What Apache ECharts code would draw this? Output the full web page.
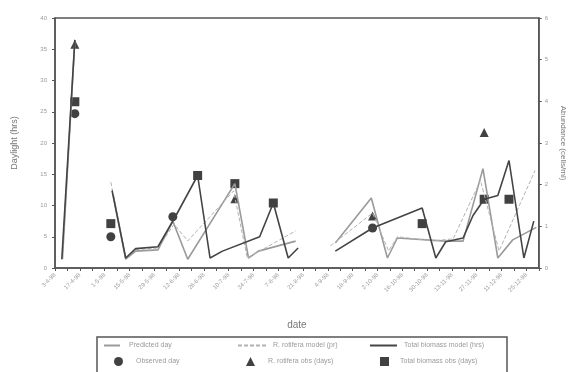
<!DOCTYPE html>
<html>
<head>
<meta charset="utf-8">
<script src="https://cdn.jsdelivr.net/npm/echarts@6/dist/echarts.min.js"></script>
<style>
html, body { margin: 0; padding: 0; background: #fff; }
#chart { width: 575px; height: 372px; }
</style>
</head>
<body>
<div id="chart"></div>
<script>
// x is the tick index along the date axis (one tick per week), labels on every other tick
const dateLabels = ['3-4-98', '17-4-98', '1-5-98', '15-5-98', '29-5-98', '12-6-98', '26-6-98', '10-7-98',
	'24-7-98', '7-8-98', '21-8-98', '4-9-98', '18-9-98', '2-10-98', '16-10-98', '30-10-98',
	'13-11-98', '27-11-98', '11-12-98', '25-12-98'];

// '-' marks a gap in the record
const modelDay = [[0.6, 1.4], [1.6, 36.5], [3, '-'],
	[4.7, 11.6], [5.7, 1.4], [6.5, 2.7], [8.3, 2.9], [9.5, 7.5], [10.7, 1.4], [14.5, 13.5], [15.6, 1.6],
	[16.4, 2.7], [19.4, 4.3], [21, '-'],
	[22.6, 4.0], [25.5, 11.2], [26.8, 1.6], [27.6, 4.8], [31.5, 4.3], [32.9, 4.3], [34.5, 15.9], [35.7, 1.6],
	[36.9, 4.5], [38.8, 6.5]];

const modelRot = [[0.6, 0.22], [1.6, 5.37], [3, '-'],
	[4.5, 2.06], [5.7, 0.24], [6.5, 0.44], [8.3, 0.48], [9.6, 1.05], [10.7, 0.65], [14.4, 1.85], [15.5, 0.24],
	[19.4, 0.89], [21, '-'],
	[22.2, 0.53], [25.6, 1.32], [26.9, 0.41], [27.6, 0.75], [30.5, 0.65], [32.1, 0.7], [34.3, 2.1],
	[35.8, 0.41], [38.7, 2.34]];

const modelTotal = [[0.55, 1.4], [1.6, 36.5], [3, '-'],
	[4.6, 12.4], [5.7, 1.6], [6.5, 3.1], [8.3, 3.4], [9.7, 8.2], [11.5, 14.8], [12.5, 1.6], [13.5, 2.7],
	[16.5, 5.0], [17.6, 10.4], [18.8, 1.6], [19.6, 3.2], [21, '-'],
	[22.6, 2.7], [25.6, 6.4], [29.6, 9.6], [30.7, 1.6], [31.5, 4.2], [32.9, 4.8], [33.7, 8.4],
	[34.6, 11.0], [35.7, 11.6], [36.6, 17.2], [37.8, 1.6], [38.6, 7.5]];

const obsDay = [[1.6, 24.7], [4.5, 5.0], [9.5, 8.2], [25.6, 6.4]];
const obsRot = [[1.6, 5.37], [14.5, 1.66], [25.6, 1.25], [34.6, 3.25]];
const obsTotal = [[1.6, 26.6], [4.5, 7.1], [11.5, 14.8], [14.5, 13.5], [17.6, 10.4], [29.6, 7.1],
	[34.6, 11.0], [36.6, 11.0]];

const names = ['Predicted day', 'R. rotifera model (pr)', 'Total biomass model (hrs)',
	'Observed day', 'R. rotifera obs (days)', 'Total biomass obs (days)'];

const axisGrey = '#555';
const textGrey = '#9a9a9a';

const solidIcon = 'path://M0,0H24V2H0Z';
const dashIcon = 'path://M0,0H4V2H0Z M6,0H10V2H6Z M12,0H16V2H12Z M18,0H22V2H18Z M24,0H28V2H24Z';

// one legend per entry so the columns line up like the original box
const legendAt = (name, left, top, icon, w, h, pad) => ({
	data: [{ name, icon }],
	left, top,
	padding: 0,
	itemWidth: w, itemHeight: h,
	symbolKeepAspect: false,
	textStyle: { color: textGrey, fontSize: 7, padding: [0, 0, 0, pad] },
});

const chart = echarts.init(document.getElementById('chart'));

chart.setOption({
	animation: false,
	textStyle: { fontFamily: 'Liberation Sans, Arial, sans-serif' },
	grid: {
		left: 55, right: 28, top: 18, bottom: 104,
		show: true, borderColor: axisGrey, borderWidth: 1.5,
	},
	legend: [
		legendAt(names[0], 104, 342, solidIcon, 16, 2, 4),
		legendAt(names[1], 238, 342, dashIcon, 28, 2, 2),
		legendAt(names[2], 370, 342, solidIcon, 27, 2, 2),
		legendAt(names[3], 114, 357, 'circle', 9, 9, 8),
		legendAt(names[4], 246, 357, 'triangle', 9, 9, 8),
		legendAt(names[5], 380, 357, 'rect', 9, 9, 6),
	],
	graphic: [{
		type: 'rect',
		shape: { x: 97, y: 337, width: 410, height: 40 },
		style: { fill: 'none', stroke: axisGrey, lineWidth: 1.5 },
	}],
	xAxis: {
		type: 'value',
		min: 0, max: 39, interval: 1,
		name: 'date', nameLocation: 'middle', nameGap: 52,
		nameTextStyle: { color: '#777', fontSize: 10 },
		axisLine: { lineStyle: { color: axisGrey, width: 1.5 } },
		axisTick: { lineStyle: { color: axisGrey }, length: 3 },
		splitLine: { show: false },
		axisLabel: {
			rotate: 45, fontSize: 6, color: textGrey, margin: 6,
			formatter: v => (v % 2 === 0 ? dateLabels[v / 2] : ''),
		},
	},
	yAxis: [{
		type: 'value',
		min: 0, max: 40, interval: 5,
		name: 'Daylight (hrs)', nameLocation: 'middle', nameGap: 36,
		nameTextStyle: { color: '#777', fontSize: 9 },
		axisLine: { show: true, lineStyle: { color: axisGrey, width: 1.5 } },
		axisTick: { show: true, length: 3, lineStyle: { color: axisGrey } },
		splitLine: { show: false },
		axisLabel: { fontSize: 6, color: textGrey, margin: 8 },
	}, {
		type: 'value',
		position: 'right',
		min: 0, max: 6, interval: 1,
		name: 'Abundance (cells/ml)', nameLocation: 'middle', nameGap: 20,
		nameRotate: -90,
		nameTextStyle: { color: '#777', fontSize: 8 },
		axisLine: { show: true, lineStyle: { color: axisGrey, width: 1.5 } },
		axisTick: { show: true, length: 3, lineStyle: { color: axisGrey } },
		splitLine: { show: false },
		axisLabel: { fontSize: 6, color: textGrey, margin: 6 },
	}],
	series: [{
		name: names[0], type: 'line', data: modelDay, showSymbol: false, symbol: 'none',
		lineStyle: { color: '#9a9a9a', width: 1.6 }, itemStyle: { color: '#9a9a9a' },
	}, {
		name: names[1], type: 'line', yAxisIndex: 1, data: modelRot, showSymbol: false, symbol: 'none',
		lineStyle: { color: '#b8b0b0', width: 1, type: 'dashed' }, itemStyle: { color: '#b8b0b0' },
	}, {
		name: names[2], type: 'line', data: modelTotal, showSymbol: false, symbol: 'none',
		lineStyle: { color: '#444', width: 1.6 }, itemStyle: { color: '#444' },
	}, {
		name: names[3], type: 'scatter', data: obsDay, symbol: 'circle', symbolSize: 9,
		itemStyle: { color: '#111' },
	}, {
		name: names[4], type: 'scatter', yAxisIndex: 1, data: obsRot, symbol: 'triangle', symbolSize: 9,
		itemStyle: { color: '#111' },
	}, {
		name: names[5], type: 'scatter', data: obsTotal, symbol: 'rect', symbolSize: 9,
		itemStyle: { color: '#111' },
	}],
});
</script>
</body>
</html>
